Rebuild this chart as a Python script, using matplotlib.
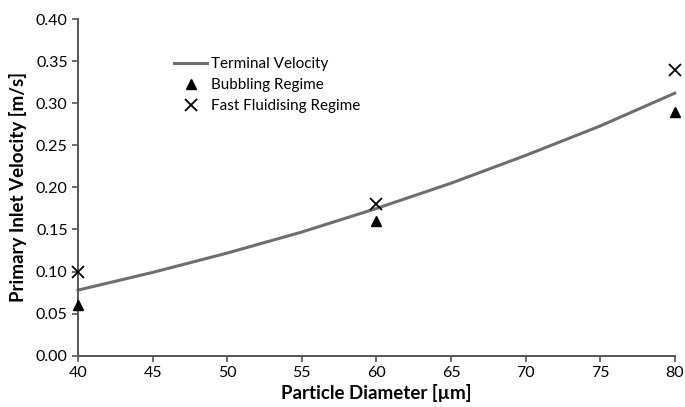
import matplotlib
matplotlib.use("Agg")
import matplotlib.pyplot as plt

plt.rcParams['font.family'] = ['Lato', 'DejaVu Sans']

# Terminal velocity curve
tv_x = [40, 45, 50, 55, 60, 65, 70, 75, 80]
tv_y = [0.078, 0.099, 0.122, 0.147, 0.175, 0.205, 0.238, 0.273, 0.312]

# Experimental points
bub_x = [40, 60, 80]
bub_y = [0.06, 0.16, 0.29]
fast_x = [40, 60, 80]
fast_y = [0.10, 0.18, 0.34]

x_ticks = [40, 45, 50, 55, 60, 65, 70, 75, 80]
y_ticks = [0.00, 0.05, 0.10, 0.15, 0.20, 0.25, 0.30, 0.35, 0.40]

fig = plt.figure(figsize=(6.85, 4.07), dpi=100)
ax = fig.add_axes([0.114, 0.126, 0.871, 0.827])

ax.plot(tv_x, tv_y, color='#6e6e6e', lw=2.2, label='Terminal Velocity', clip_on=False, zorder=2)
ax.plot(bub_x, bub_y, linestyle='none', marker='^', color='black', ms=7, label='Bubbling Regime', clip_on=False, zorder=3)
ax.plot(fast_x, fast_y, linestyle='none', marker='x', color='black', ms=9, mew=1.3, label='Fast Fluidising Regime', clip_on=False, zorder=3)

ax.set_xlim(40, 80)
ax.set_ylim(0, 0.40)
ax.set_xticks(x_ticks)
ax.set_yticks(y_ticks)
ax.set_yticklabels([f"{v:.2f}" for v in y_ticks])
ax.tick_params(axis='both', labelsize=11.5, direction='out', length=4, width=1.2, color='#555555')
for s in ['top', 'right']:
    ax.spines[s].set_visible(False)
for s in ['left', 'bottom']:
    ax.spines[s].set_color('#555555')
    ax.spines[s].set_linewidth(1.4)

ax.set_xlabel('Particle Diameter [µm]', fontsize=13.5, fontweight='bold', labelpad=3)
ax.set_ylabel('Primary Inlet Velocity [m/s]', fontsize=13.5, fontweight='bold', labelpad=6)

leg = ax.legend(loc='upper left', bbox_to_anchor=(0.15, 0.905), frameon=False, fontsize=11,
                handlelength=2.2, handletextpad=0.25, labelspacing=0.45, borderaxespad=0)

fig.savefig('out.png', dpi=100)
